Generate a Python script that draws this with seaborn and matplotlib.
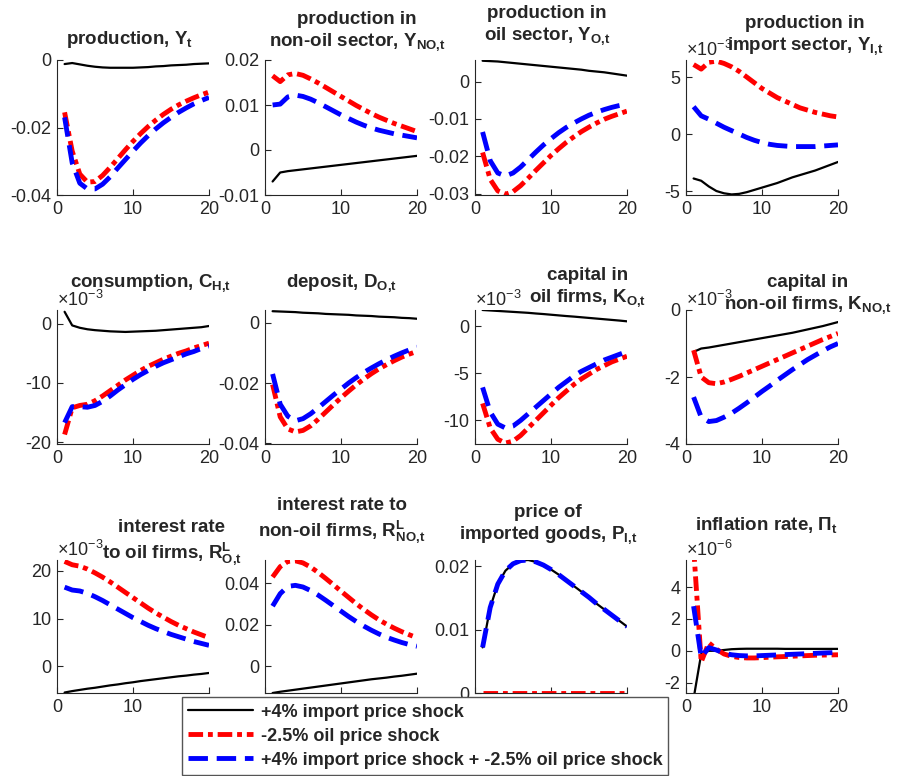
import numpy as np
import seaborn as sns
import matplotlib.pyplot as plt
from matplotlib.lines import Line2D
from matplotlib.ticker import FuncFormatter

t = np.arange(1, 21)

# production, Y_t
y_imp = [-0.0012, -0.0009, -0.0013, -0.0017, -0.0020, -0.0022, -0.0023, -0.0023, -0.0023, -0.0023,
         -0.0022, -0.0021, -0.0019, -0.0018, -0.0016, -0.0015, -0.0014, -0.0012, -0.0011, -0.0010]
y_oil = [-0.0155, -0.0270, -0.0338, -0.0362, -0.0360, -0.0342, -0.0318, -0.0292, -0.0266, -0.0241,
         -0.0218, -0.0197, -0.0178, -0.0161, -0.0146, -0.0133, -0.0122, -0.0112, -0.0103, -0.0095]
y_both = [-0.0170, -0.0305, -0.0365, -0.0382, -0.0382, -0.0368, -0.0346, -0.0320, -0.0295, -0.0270,
          -0.0246, -0.0224, -0.0204, -0.0186, -0.0170, -0.0155, -0.0142, -0.0130, -0.0120, -0.0111]

# production in non-oil sector
yno_imp = [-0.0070, -0.0050, -0.0047, -0.0045, -0.0043, -0.0041, -0.0039, -0.0037, -0.0035, -0.0033,
           -0.0031, -0.0029, -0.0027, -0.0025, -0.0023, -0.0021, -0.0019, -0.0017, -0.0015, -0.0013]
yno_oil = [0.0165, 0.0152, 0.0167, 0.0170, 0.0166, 0.0158, 0.0149, 0.0139, 0.0129, 0.0119,
           0.0109, 0.0099, 0.0090, 0.0081, 0.0073, 0.0066, 0.0059, 0.0053, 0.0047, 0.0041]
yno_both = [0.0100, 0.0102, 0.0118, 0.0122, 0.0119, 0.0113, 0.0105, 0.0096, 0.0087, 0.0078,
            0.0070, 0.0062, 0.0055, 0.0049, 0.0044, 0.0040, 0.0036, 0.0033, 0.0030, 0.0027]

# production in oil sector
yo_imp = [0.0056, 0.0055, 0.0054, 0.0052, 0.0050, 0.0048, 0.0046, 0.0044, 0.0042, 0.0040,
          0.0038, 0.0036, 0.0034, 0.0032, 0.0029, 0.0027, 0.0025, 0.0022, 0.0019, 0.0016]
yo_oil = [-0.0190, -0.0262, -0.0293, -0.0302, -0.0295, -0.0279, -0.0259, -0.0238, -0.0218, -0.0198,
          -0.0180, -0.0163, -0.0148, -0.0134, -0.0122, -0.0111, -0.0101, -0.0093, -0.0086, -0.0079]
yo_both = [-0.0135, -0.0212, -0.0245, -0.0253, -0.0245, -0.0229, -0.0209, -0.0189, -0.0170, -0.0153,
           -0.0137, -0.0123, -0.0111, -0.0100, -0.0090, -0.0082, -0.0075, -0.0069, -0.0064, -0.0060]

# production in import sector (x1e-3)
yi_imp = [-3.9, -4.1, -4.6, -5.0, -5.2, -5.3, -5.25, -5.1, -4.9, -4.7,
          -4.5, -4.3, -4.05, -3.8, -3.6, -3.4, -3.2, -2.95, -2.7, -2.45]
yi_oil = [6.1, 5.7, 6.3, 6.4, 6.2, 5.9, 5.5, 5.0, 4.5, 4.0,
          3.6, 3.2, 2.9, 2.6, 2.3, 2.1, 1.9, 1.75, 1.6, 1.5]
yi_both = [2.4, 1.6, 1.3, 0.95, 0.6, 0.3, 0.0, -0.3, -0.55, -0.75,
           -0.9, -1.0, -1.05, -1.1, -1.1, -1.1, -1.1, -1.05, -1.0, -0.95]

# consumption (x1e-3)
c_imp = [2.0, -0.3, -0.7, -0.95, -1.1, -1.2, -1.3, -1.35, -1.4, -1.35,
         -1.3, -1.25, -1.2, -1.1, -1.0, -0.9, -0.8, -0.7, -0.6, -0.4]
c_oil = [-18.7, -14.2, -13.8, -13.6, -13.0, -12.2, -11.3, -10.4, -9.5, -8.7,
         -7.9, -7.2, -6.6, -6.0, -5.5, -5.0, -4.6, -4.1, -3.7, -3.3]
c_both = [-16.7, -14.0, -14.0, -14.1, -13.8, -13.1, -12.2, -11.2, -10.3, -9.4,
          -8.6, -7.9, -7.2, -6.6, -6.1, -5.6, -5.1, -4.7, -4.2, -3.8]

# deposit
d_imp = [0.0038, 0.0037, 0.0036, 0.0035, 0.0033, 0.0032, 0.0031, 0.0029, 0.0028, 0.0027,
         0.0026, 0.0024, 0.0023, 0.0022, 0.0020, 0.0019, 0.0018, 0.0016, 0.0015, 0.0013]
d_oil = [-0.0205, -0.0312, -0.0352, -0.0362, -0.0357, -0.0342, -0.0320, -0.0296, -0.0272, -0.0249,
         -0.0227, -0.0206, -0.0187, -0.0169, -0.0153, -0.0139, -0.0126, -0.0114, -0.0104, -0.0095]
d_both = [-0.0170, -0.0270, -0.0310, -0.0325, -0.0318, -0.0302, -0.0282, -0.0261, -0.0240, -0.0220,
          -0.0200, -0.0182, -0.0165, -0.0150, -0.0136, -0.0123, -0.0111, -0.0100, -0.0090, -0.0081]

# capital in oil firms (x1e-3)
ko_imp = [1.7, 1.65, 1.6, 1.55, 1.5, 1.45, 1.4, 1.33, 1.27, 1.2,
          1.13, 1.06, 1.0, 0.93, 0.86, 0.79, 0.72, 0.65, 0.58, 0.5]
ko_oil = [-8.2, -10.8, -12.0, -12.4, -12.2, -11.6, -10.8, -10.0, -9.2, -8.4,
          -7.6, -6.9, -6.2, -5.6, -5.1, -4.6, -4.2, -3.8, -3.5, -3.2]
ko_both = [-6.5, -9.1, -10.4, -10.8, -10.6, -10.0, -9.3, -8.6, -7.9, -7.2,
           -6.5, -5.9, -5.3, -4.8, -4.4, -4.0, -3.6, -3.3, -3.0, -2.7]

# capital in non-oil firms (x1e-3)
kno_imp = [-1.25, -1.15, -1.12, -1.08, -1.04, -1.0, -0.96, -0.92, -0.88, -0.84,
           -0.8, -0.76, -0.72, -0.68, -0.63, -0.58, -0.53, -0.48, -0.42, -0.36]
kno_oil = [-1.2, -2.0, -2.17, -2.2, -2.15, -2.07, -1.98, -1.88, -1.78, -1.68,
           -1.58, -1.48, -1.38, -1.28, -1.18, -1.08, -0.98, -0.88, -0.79, -0.7]
kno_both = [-2.6, -3.2, -3.33, -3.3, -3.2, -3.08, -2.93, -2.77, -2.6, -2.43,
            -2.27, -2.1, -1.94, -1.78, -1.63, -1.48, -1.35, -1.22, -1.1, -1.0]

# interest rate to oil firms (x1e-3)
ro_imp = [-5.5, -5.2, -4.95, -4.7, -4.5, -4.25, -4.0, -3.8, -3.55, -3.35,
          -3.1, -2.9, -2.7, -2.5, -2.3, -2.1, -1.95, -1.75, -1.6, -1.4]
ro_oil = [22.0, 21.3, 21.0, 20.4, 19.6, 18.7, 17.7, 16.6, 15.5, 14.4,
          13.3, 12.2, 11.2, 10.3, 9.4, 8.6, 7.9, 7.2, 6.6, 6.0]
ro_both = [16.6, 16.0, 15.8, 15.3, 14.6, 13.8, 12.9, 12.0, 11.1, 10.2,
           9.4, 8.6, 7.9, 7.3, 6.7, 6.2, 5.7, 5.2, 4.8, 4.4]

# interest rate to non-oil firms
rno_imp = [-0.0128, -0.0122, -0.0117, -0.0112, -0.0107, -0.0102, -0.0097, -0.0092, -0.0087, -0.0082,
           -0.0077, -0.0072, -0.0067, -0.0062, -0.0058, -0.0054, -0.0049, -0.0045, -0.0040, -0.0035]
rno_oil = [0.0430, 0.0480, 0.0505, 0.0508, 0.0498, 0.0478, 0.0452, 0.0423, 0.0393, 0.0362,
           0.0332, 0.0302, 0.0274, 0.0248, 0.0224, 0.0203, 0.0184, 0.0167, 0.0152, 0.0138]
rno_both = [0.0290, 0.0350, 0.0385, 0.0390, 0.0382, 0.0365, 0.0343, 0.0318, 0.0292, 0.0266,
            0.0240, 0.0216, 0.0194, 0.0174, 0.0156, 0.0140, 0.0127, 0.0115, 0.0105, 0.0097]

# price of imported goods
pi_imp = [0.0072, 0.0135, 0.0172, 0.0193, 0.0204, 0.0209, 0.0210, 0.0207, 0.0202, 0.0195,
          0.0187, 0.0178, 0.0169, 0.0160, 0.0151, 0.0141, 0.0132, 0.0123, 0.0114, 0.0105]
pi_oil = [0.0] * 20
pi_both = [0.0072, 0.0135, 0.0172, 0.0193, 0.0204, 0.0209, 0.0210, 0.0207, 0.0202, 0.0195,
           0.0187, 0.0178, 0.0169, 0.0160, 0.0151, 0.0141, 0.0132, 0.0123, 0.0114, 0.0105]

# inflation (x1e-6)
inf_imp = [-3.0, -0.2, 0.0, 0.0, 0.05, 0.1, 0.12, 0.13, 0.13, 0.13,
           0.13, 0.13, 0.12, 0.12, 0.12, 0.12, 0.12, 0.12, 0.12, 0.12]
inf_oil = [6.5, -0.7, 0.5, 0.1, -0.2, -0.35, -0.42, -0.45, -0.45, -0.43,
           -0.4, -0.38, -0.36, -0.34, -0.32, -0.3, -0.28, -0.27, -0.26, -0.25]
inf_both = [2.8, -0.4, 0.2, 0.05, -0.15, -0.25, -0.3, -0.32, -0.32, -0.3,
            -0.28, -0.26, -0.24, -0.22, -0.2, -0.18, -0.16, -0.14, -0.12, -0.1]

legend_labels = ['+4% import price shock', '-2.5% oil price shock',
                 '+4% import price shock + -2.5% oil price shock']

sns.set_style('ticks')
plt.rcParams['font.family'] = ['Liberation Sans', 'DejaVu Sans']
plt.rcParams['mathtext.fontset'] = 'custom'
plt.rcParams['mathtext.rm'] = 'Liberation Sans'
plt.rcParams['mathtext.bf'] = 'Liberation Sans:bold'

styles = [dict(color='black', linewidth=1.6, linestyle='-'),
          dict(color='red', linewidth=3.5, linestyle=(0, (3, 1.0, 1, 1.0))),
          dict(color='blue', linewidth=3.5, linestyle=(0, (4, 1.8)))]

# panel specs: series, scale, ylim, yticks, title, title centre (px), exponent, x tick labels
panels = [
    ((y_imp, y_oil, y_both), 1, (-0.04, 0.0), [-0.04, -0.02, 0],
     r'production, $\mathbf{Y_t}$', (130, 40), None, True),
    ((yno_imp, yno_oil, yno_both), 1, (-0.01, 0.02), [-0.01, 0, 0.01, 0.02],
     'production in\n' + r'non-oil sector, $\mathbf{Y_{NO{,}t}}$', (357, 32), None, True),
    ((yo_imp, yo_oil, yo_both), 1, (-0.0304, 0.0058), [-0.03, -0.02, -0.01, 0],
     'production in\n' + r'oil sector, $\mathbf{Y_{O{,}t}}$', (547, 26), None, True),
    ((yi_imp, yi_oil, yi_both), 1e-3, (-5.35, 6.5), [-5, 0, 5],
     'production in\n' + r'import sector, $\mathbf{Y_{I{,}t}}$', (805, 36), '-3', True),
    ((c_imp, c_oil, c_both), 1e-3, (-20.3, 2.3), [-20, -10, 0],
     r'consumption, $\mathbf{C_{H{,}t}}$', (151, 283), '-3', True),
    ((d_imp, d_oil, d_both), 1, (-0.0402, 0.0042), [-0.04, -0.02, 0],
     r'deposit, $\mathbf{D_{O{,}t}}$', (341, 283), None, True),
    ((ko_imp, ko_oil, ko_both), 1e-3, (-12.5, 1.7), [-10, -5, 0],
     'capital in\n' + r'oil firms, $\mathbf{K_{O{,}t}}$', (588, 288), '-3', True),
    ((kno_imp, kno_oil, kno_both), 1e-3, (-4.0, 0.0), [-4, -2, 0],
     'capital in\n' + r'non-oil firms, $\mathbf{K_{NO{,}t}}$', (808, 295), '-3', True),
    ((ro_imp, ro_oil, ro_both), 1e-3, (-5.6, 22.3), [0, 10, 20],
     'interest rate\n' + r'to oil firms, $\mathbf{R^L_{O{,}t}}$', (172, 543), '-3', [0, 10]),
    ((rno_imp, rno_oil, rno_both), 1, (-0.0128, 0.0512), [0, 0.02, 0.04],
     'interest rate to\n' + r'non-oil firms, $\mathbf{R^L_{NO{,}t}}$', (342, 521), None, False),
    ((pi_imp, pi_oil, pi_both), 1, (0.0, 0.021), [0, 0.01, 0.02],
     'price of\n' + r'imported goods, $\mathbf{P_{I{,}t}}$', (548, 525), None, False),
    ((inf_imp, inf_oil, inf_both), 1e-6, (-2.65, 5.7), [-2, 0, 2, 4],
     r'inflation rate, $\mathbf{\Pi_t}$', (766, 525), '-6', True),
]

W, H = 904, 776
fig = plt.figure(figsize=(W / 100, H / 100), dpi=100)

col_left = [57, 265, 475, 686]
row_top = [60, 310, 560]
row_bot = [195, 444, 693]
axw = 152

for i, (series, scale, ylim, yt, title, (tx, ty), expo, xlab) in enumerate(panels):
    r, c = divmod(i, 4)
    ax = fig.add_axes([col_left[c] / W, 1 - row_bot[r] / H, axw / W,
                       (row_bot[r] - row_top[r]) / H])
    for vals, st in zip(series, styles):
        sns.lineplot(x=t, y=np.array(vals) * scale, ax=ax, legend=False, **st)
    ax.set_xlim(0, 20)
    ax.set_xticks([0, 10, 20])
    ax.set_ylim(ylim[0] * scale, ylim[1] * scale)
    ax.set_yticks([v * scale for v in yt])
    ax.yaxis.set_major_formatter(FuncFormatter(lambda v, p, s=scale: '%g' % round(v / s, 6)))
    # tick labels that sit under the legend box are left blank
    if xlab is True:
        ax.xaxis.set_major_formatter(FuncFormatter(lambda v, p: '%g' % v))
    elif xlab is False:
        ax.set_xticklabels([])
    else:
        ax.set_xticklabels(['%g' % v if v in xlab else '' for v in [0, 10, 20]])
    ax.set_xlabel('')
    ax.set_ylabel('')
    ax.spines['top'].set_visible(False)
    ax.spines['right'].set_visible(False)
    for s in ['left', 'bottom']:
        ax.spines[s].set_color('#262626')
        ax.spines[s].set_linewidth(0.8)
    ax.tick_params(direction='in', length=4, width=0.8, labelsize=13,
                   colors='#262626', pad=4)
    if expo:
        ax.text(0.0, 1.0, '×10$^{%s}$' % expo, transform=ax.transAxes,
                ha='left', va='bottom', fontsize=13, color='#262626')
    fig.text(tx / W, 1 - ty / H, title, ha='center', va='center',
             multialignment='center', fontsize=13.5, fontweight='bold')

handles = [Line2D([], [], **st) for st in styles]
leg = fig.legend(handles, legend_labels, loc='lower left',
                 bbox_to_anchor=(182 / W, 0.0015), frameon=True, fancybox=False,
                 prop={'weight': 'bold', 'size': 13}, handlelength=3.6,
                 handletextpad=0.4, labelspacing=0.38, borderpad=0.35,
                 borderaxespad=0.0)
leg.get_frame().set_edgecolor('#555555')
leg.get_frame().set_linewidth(1.0)
leg.get_frame().set_alpha(1.0)

fig.savefig('out.png', dpi=100)
